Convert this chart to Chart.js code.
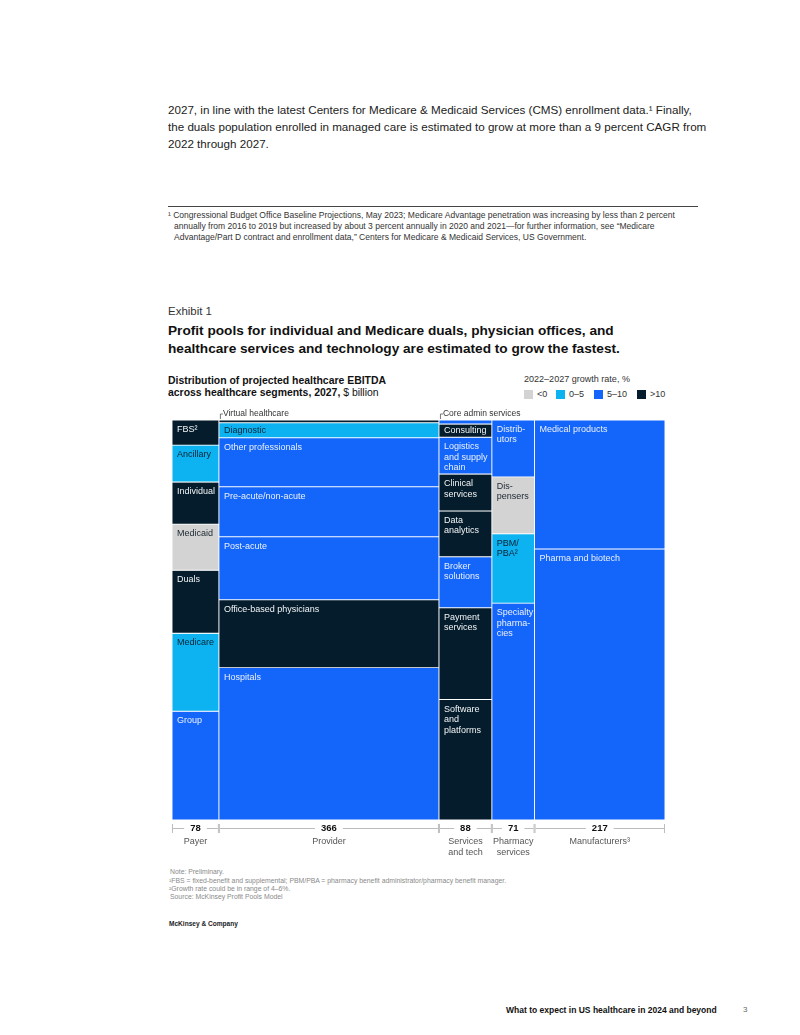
<!DOCTYPE html>
<html>
<head>
<meta charset="utf-8">
<script src="https://cdn.jsdelivr.net/npm/chart.js@4.4.1/dist/chart.umd.min.js"></script>
<style>
  html, body { margin: 0; padding: 0; background: #fff; }
  body { width: 800px; height: 1035px; position: relative; overflow: hidden; font-family: "Liberation Sans", Arial, sans-serif; }
  .t { position: absolute; white-space: nowrap; line-height: 1; transform: translateY(-50%); }
  .para { font-size: 12px; color: #222; }
  .foot { font-size: 8px; color: #333; }
  .ex { font-size: 11px; color: #333; }
  .ttl { font-size: 14px; color: #111; font-weight: bold; }
  .sub { font-size: 10px; color: #111; font-weight: bold; }
  .sub span { font-weight: normal; }
  .leg { font-size: 9px; color: #333; }
  .note { font-size: 7px; color: #8a8a8a; }
  .mck { font-size: 7px; color: #222; font-weight: bold; }
  .ftr { font-size: 8px; color: #111; font-weight: bold; }
  .sw { position: absolute; width: 9px; height: 9px; }
  #rule { position: absolute; left: 168px; top: 206px; width: 530px; height: 1px; background: #444; }
  #wrap { position: absolute; left: 150px; top: 400px; width: 550px; height: 470px; }
</style>
</head>
<body>
<div class="t para" data-g="para" data-w="522" style="left:168px;top:110px">2027, in line with the latest Centers for Medicare &amp; Medicaid Services (CMS) enrollment data.¹ Finally,</div>
<div class="t para" data-g="para" data-w="530" style="left:168px;top:127px">the duals population enrolled in managed care is estimated to grow at more than a 9 percent CAGR from</div>
<div class="t para" data-g="para" data-w="103" style="left:168px;top:144px">2022 through 2027.</div>

<div id="rule"></div>
<div class="t foot" data-g="foot" data-w="491" style="left:168px;top:215px">¹ Congressional Budget Office Baseline Projections, May 2023; Medicare Advantage penetration was increasing by less than 2 percent</div>
<div class="t foot" data-g="foot" data-w="488" style="left:174px;top:226px">annually from 2016 to 2019 but increased by about 3 percent annually in 2020 and 2021—for further information, see “Medicare</div>
<div class="t foot" data-g="foot" data-w="420" style="left:174px;top:237px">Advantage/Part D contract and enrollment data,” Centers for Medicare &amp; Medicaid Services, US Government.</div>

<div class="t ex" data-g="ex" data-w="44" style="left:168px;top:312px">Exhibit 1</div>
<div class="t ttl" data-g="ttl" data-w="441" style="left:168px;top:331px">Profit pools for individual and Medicare duals, physician offices, and</div>
<div class="t ttl" data-g="ttl" data-w="457" style="left:168px;top:349px">healthcare services and technology are estimated to grow the fastest.</div>

<div class="t sub" data-g="sub" data-w="217" style="left:168px;top:381px">Distribution of projected healthcare EBITDA</div>
<div class="t sub" data-g="sub" data-w="212" style="left:168px;top:393px">across healthcare segments, 2027, <span>$ billion</span></div>

<div class="t leg" id="legTitle" data-g="legt" data-w="106" style="left:524px;top:380px">2022–2027 growth rate, %</div>
<div id="legend"></div>

<div class="t note" data-g="note" data-w="54" style="left:170px;top:872px">Note: Preliminary.</div>
<div class="t note" data-g="note" data-w="348" style="left:169px;top:881px">¹FBS = fixed-benefit and supplemental; PBM/PBA = pharmacy benefit administrator/pharmacy benefit manager.</div>
<div class="t note" data-g="note" data-w="115" style="left:169px;top:889px">²Growth rate could be in range of 4–6%.</div>
<div class="t note" data-g="note" data-w="115" style="left:170px;top:897px">Source: McKinsey Profit Pools Model</div>

<div class="t mck" data-g="mck" data-w="69" style="left:169px;top:924px">McKinsey &amp; Company</div>
<div class="t ftr" data-g="ftr" data-w="211" style="left:506px;top:1010px">What to expect in US healthcare in 2024 and beyond</div>
<div class="t ftr" style="left:743px;top:1010px;font-weight:normal;color:#666">3</div>

<div id="wrap"><canvas id="c" width="550" height="470"></canvas></div>

<script>
// ---------------- DATA ----------------
const columnNames = ['Payer', 'Provider', 'Services\nand tech', 'Pharmacy\nservices', 'Manufacturers³'];
const columnTotals = [78, 366, 88, 71, 217]; // $ billion, 2027 EBITDA

const payerSegments = ['FBS²', 'Ancillary', 'Individual', 'Medicaid', 'Duals', 'Medicare', 'Group'];
const payerValues   = [4.9, 7.2, 8.2, 9.0, 12.3, 15.2, 21.2];
const payerGrowth   = ['>10', '0–5', '>10', '<0', '>10', '0–5', '5–10'];

const providerSegments = ['Virtual healthcare', 'Diagnostic', 'Other professionals', 'Pre-acute/non-acute', 'Post-acute', 'Office-based physicians', 'Hospitals'];
const providerValues   = [2.5, 13.7, 44.8, 45.8, 57.6, 62.2, 139.4];
const providerGrowth   = ['>10', '0–5', '5–10', '5–10', '5–10', '>10', '5–10'];

const servicesSegments = ['Core admin services', 'Consulting', 'Logistics\nand supply\nchain', 'Clinical\nservices', 'Data\nanalytics', 'Broker\nsolutions', 'Payment\nservices', 'Software\nand\nplatforms'];
const servicesValues   = [0.9, 2.9, 8.1, 8.1, 10.1, 11.2, 20.2, 26.5];
const servicesGrowth   = ['5–10', '>10', '5–10', '>10', '>10', '5–10', '>10', '>10'];

const pharmacySegments = ['Distrib-\nutors', 'Dis-\npensers', 'PBM/\nPBA²', 'Specialty\npharma-\ncies'];
const pharmacyValues   = [10.1, 10.1, 12.3, 38.5];
const pharmacyGrowth   = ['5–10', '<0', '0–5', '5–10'];

const manufacturerSegments = ['Medical products', 'Pharma and biotech'];
const manufacturerValues   = [70, 147];
const manufacturerGrowth   = ['5–10', '5–10'];

const growthBands = ['<0', '0–5', '5–10', '>10'];
const calloutSegments = ['Virtual healthcare', 'Core admin services'];

// ---------------- STYLE ----------------
const bandColors = { '<0': '#D3D3D3', '0–5': '#0DB3F0', '5–10': '#1466FA', '>10': '#051C2C' };
const bandText   = { '<0': '#1b2630', '0–5': '#0b2233', '5–10': '#EAF0FF', '>10': '#F2F4F6' };
const FONT = '"Liberation Sans", Arial, sans-serif';

// Legend (HTML)
(function () {
  const lx = [524, 556, 594, 637];
  const leg = document.getElementById('legend');
  growthBands.forEach((b, i) => {
    const sw = document.createElement('div');
    sw.className = 'sw';
    sw.style.left = lx[i] + 'px';
    sw.style.top = '390px';
    sw.style.background = bandColors[b];
    leg.appendChild(sw);
    const t = document.createElement('div');
    t.className = 't leg';
    t.style.left = (lx[i] + 13) + 'px';
    t.style.top = '395px';
    t.textContent = b;
    leg.appendChild(t);
  });
})();

// Fit text widths
(function () {
  const groups = {};
  document.querySelectorAll('[data-w]').forEach(el => {
    const base = parseFloat(getComputedStyle(el).fontSize);
    const w = el.getBoundingClientRect().width;
    const fit = base * parseFloat(el.dataset.w) / w;
    (groups[el.dataset.g] = groups[el.dataset.g] || []).push({ el, fit });
  });
  Object.values(groups).forEach(list => {
    const avg = list.reduce((s, o) => s + o.fit, 0) / list.length;
    list.forEach(o => { o.el.style.fontSize = avg.toFixed(2) + 'px'; });
  });
  const lt = document.getElementById('legTitle').style.fontSize;
  document.querySelectorAll('#legend .leg').forEach(e => e.style.fontSize = lt);
})();

// ---------------- BUILD DATASETS ----------------
const columns = [
  { segs: payerSegments, vals: payerValues, growth: payerGrowth },
  { segs: providerSegments, vals: providerValues, growth: providerGrowth },
  { segs: servicesSegments, vals: servicesValues, growth: servicesGrowth },
  { segs: pharmacySegments, vals: pharmacyValues, growth: pharmacyGrowth },
  { segs: manufacturerSegments, vals: manufacturerValues, growth: manufacturerGrowth }
];
const grandTotal = columnTotals.reduce((a, b) => a + b, 0);
const datasets = [];
let xStart = 0;
columns.forEach((col, ci) => {
  const total = columnTotals[ci];
  const sum = col.vals.reduce((a, b) => a + b, 0);
  let acc = 0;
  col.segs.forEach((label, si) => {
    const y0 = acc / sum * 100;
    acc += col.vals[si];
    const y1 = acc / sum * 100;
    datasets.push({
      label,
      data: [{ x: xStart + total / 2, y: [y0, y1] }],
      colWidth: total,
      growth: col.growth[si],
      backgroundColor: bandColors[col.growth[si]],
      borderColor: '#ffffff',
      borderWidth: 0.8,
      borderSkipped: false,
      stack: 'mekko',
      barThickness: ctx => {
        const s = ctx.chart.scales.x;
        if (!s) return 1;
        return Math.abs(s.getPixelForValue(ctx.dataset.colWidth) - s.getPixelForValue(0));
      },
      categoryPercentage: 1,
      barPercentage: 1
    });
  });
  xStart += total;
});

// ---------------- PLUGINS ----------------
const segmentLabels = {
  id: 'segmentLabels',
  afterDatasetsDraw(chart) {
    const ctx = chart.ctx;
    ctx.save();
    chart.data.datasets.forEach((ds, i) => {
      const el = chart.getDatasetMeta(i).data[0];
      if (!el) return;
      const p = el.getProps(['x', 'y', 'base', 'width'], true);
      const left = p.x - p.width / 2;
      const top = Math.min(p.y, p.base);
      const h = Math.abs(p.base - p.y);
      if (calloutSegments.includes(ds.label)) {
        ctx.strokeStyle = '#555';
        ctx.lineWidth = 0.8;
        ctx.beginPath();
        ctx.moveTo(left + 1.5, top - 1);
        ctx.lineTo(left + 1.5, top - 6);
        ctx.lineTo(left + 4, top - 6);
        ctx.stroke();
        ctx.fillStyle = '#333';
        ctx.font = '8.5px ' + FONT;
        ctx.textBaseline = 'middle';
        ctx.textAlign = 'left';
        ctx.fillText(ds.label, left + 4, top - 6.5);
        return;
      }
      const lines = ds.label.split('\n');
      ctx.fillStyle = bandText[ds.growth];
      ctx.font = '9px ' + FONT;
      ctx.textBaseline = 'middle';
      ctx.textAlign = 'left';
      let y0 = h < 18 ? top + h / 2 : top + 9.5;
      lines.forEach((ln, k) => ctx.fillText(ln, left + 5, y0 + k * 10.5));
    });
    ctx.restore();
  }
};

const bottomAxis = {
  id: 'bottomAxis',
  afterDraw(chart) {
    const ctx = chart.ctx;
    const xs = chart.scales.x;
    const yAxis = chart.chartArea.bottom + 8.5;
    ctx.save();
    let start = 0;
    columnTotals.forEach((tot, i) => {
      const x0 = xs.getPixelForValue(start);
      const x1 = xs.getPixelForValue(start + tot);
      const cx = (x0 + x1) / 2;
      ctx.font = 'bold 9.5px ' + FONT;
      const tw = ctx.measureText(String(tot)).width;
      ctx.strokeStyle = '#BDBDBD';
      ctx.lineWidth = 1;
      ctx.beginPath();
      ctx.moveTo(x0 + 1, yAxis); ctx.lineTo(cx - tw / 2 - 6, yAxis);
      ctx.moveTo(cx + tw / 2 + 6, yAxis); ctx.lineTo(x1 - 1, yAxis);
      ctx.moveTo(x0 + 0.5, yAxis - 4.5); ctx.lineTo(x0 + 0.5, yAxis + 4.5);
      ctx.moveTo(x1 - 0.5, yAxis - 4.5); ctx.lineTo(x1 - 0.5, yAxis + 4.5);
      ctx.stroke();
      ctx.fillStyle = '#111';
      ctx.textAlign = 'center';
      ctx.textBaseline = 'middle';
      ctx.fillText(String(tot), cx, yAxis);
      ctx.font = '9px ' + FONT;
      ctx.fillStyle = '#555';
      columnNames[i].split('\n').forEach((ln, k) => ctx.fillText(ln, cx, yAxis + 13 + k * 11));
      start += tot;
    });
    ctx.restore();
  }
};

Chart.defaults.font.family = FONT;
new Chart(document.getElementById('c'), {
  type: 'bar',
  data: { datasets },
  options: {
    responsive: false,
    animation: false,
    events: [],
    layout: { padding: { left: 22, right: 35, top: 20, bottom: 50 } },
    scales: {
      x: { type: 'linear', min: 0, max: grandTotal, offset: false, display: false },
      y: { type: 'linear', min: 0, max: 100, reverse: true, display: false, stacked: false }
    },
    plugins: { legend: { display: false }, tooltip: { enabled: false } }
  },
  plugins: [segmentLabels, bottomAxis]
});
</script>
</body>
</html>
